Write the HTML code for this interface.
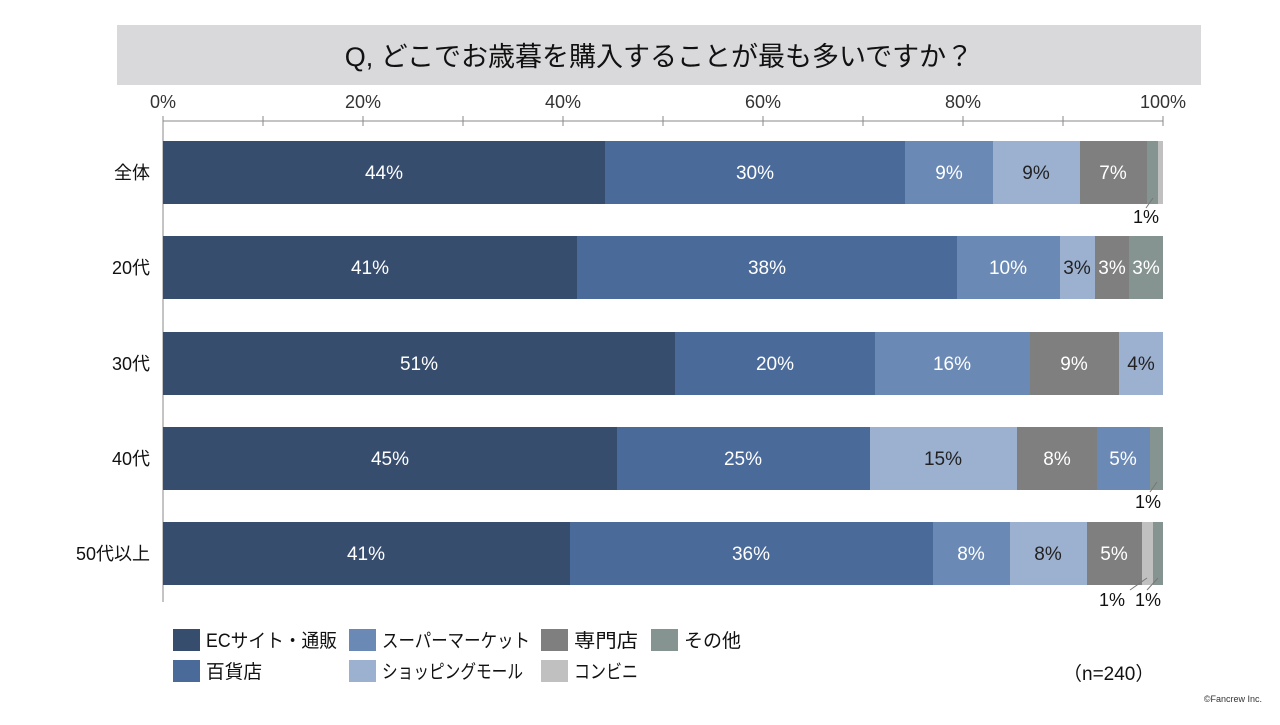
<!DOCTYPE html>
<html><head><meta charset="utf-8"><style>
body{margin:0;background:#fff;}
text{font-family:"Liberation Sans","Noto Sans CJK JP",sans-serif;}
</style></head><body>
<svg width="1280" height="720" xmlns="http://www.w3.org/2000/svg">
<rect x="117" y="25" width="1084" height="60" fill="#d9d9dc"/>
<text x="659" y="66" font-size="27" text-anchor="middle" fill="#111">Q, どこでお歳暮を購入することが最も多いですか？</text>
<g font-size="18" fill="#333" text-anchor="middle">
<text x="163" y="108">0%</text><text x="363" y="108">20%</text><text x="563" y="108">40%</text><text x="763" y="108">60%</text><text x="963" y="108">80%</text><text x="1163" y="108">100%</text>
</g>
<g stroke="#888" stroke-width="1">
<line x1="163" y1="121" x2="1163" y2="121"/>
<line x1="163" y1="121" x2="163" y2="602"/>
<line x1="163" y1="116" x2="163" y2="126"/><line x1="263" y1="116" x2="263" y2="126"/><line x1="363" y1="116" x2="363" y2="126"/><line x1="463" y1="116" x2="463" y2="126"/><line x1="563" y1="116" x2="563" y2="126"/><line x1="663" y1="116" x2="663" y2="126"/><line x1="763" y1="116" x2="763" y2="126"/><line x1="863" y1="116" x2="863" y2="126"/><line x1="963" y1="116" x2="963" y2="126"/><line x1="1063" y1="116" x2="1063" y2="126"/><line x1="1163" y1="116" x2="1163" y2="126"/>
</g>
<g font-size="18" fill="#111" text-anchor="end">
<text x="150" y="179">全体</text><text x="150" y="274">20代</text><text x="150" y="370">30代</text><text x="150" y="465">40代</text><text x="150" y="560">50代以上</text>
</g>
<rect x="163" y="141" width="442" height="63" fill="#374d6e"/>
<rect x="605" y="141" width="300" height="63" fill="#4a6a9a"/>
<rect x="905" y="141" width="88" height="63" fill="#6a8ab5"/>
<rect x="993" y="141" width="87" height="63" fill="#9cb0cf"/>
<rect x="1080" y="141" width="67" height="63" fill="#7f7f7f"/>
<rect x="1147" y="141" width="11" height="63" fill="#859490"/>
<rect x="1158" y="141" width="5" height="63" fill="#c0c0c0"/>
<rect x="163" y="236" width="414" height="63" fill="#374d6e"/>
<rect x="577" y="236" width="380" height="63" fill="#4a6a9a"/>
<rect x="957" y="236" width="103" height="63" fill="#6a8ab5"/>
<rect x="1060" y="236" width="35" height="63" fill="#9cb0cf"/>
<rect x="1095" y="236" width="34" height="63" fill="#7f7f7f"/>
<rect x="1129" y="236" width="34" height="63" fill="#859490"/>
<rect x="163" y="332" width="512" height="63" fill="#374d6e"/>
<rect x="675" y="332" width="200" height="63" fill="#4a6a9a"/>
<rect x="875" y="332" width="155" height="63" fill="#6a8ab5"/>
<rect x="1030" y="332" width="89" height="63" fill="#7f7f7f"/>
<rect x="1119" y="332" width="44" height="63" fill="#9cb0cf"/>
<rect x="163" y="427" width="454" height="63" fill="#374d6e"/>
<rect x="617" y="427" width="253" height="63" fill="#4a6a9a"/>
<rect x="870" y="427" width="147" height="63" fill="#9cb0cf"/>
<rect x="1017" y="427" width="80" height="63" fill="#7f7f7f"/>
<rect x="1097" y="427" width="53" height="63" fill="#6a8ab5"/>
<rect x="1150" y="427" width="13" height="63" fill="#859490"/>
<rect x="163" y="522" width="407" height="63" fill="#374d6e"/>
<rect x="570" y="522" width="363" height="63" fill="#4a6a9a"/>
<rect x="933" y="522" width="77" height="63" fill="#6a8ab5"/>
<rect x="1010" y="522" width="77" height="63" fill="#9cb0cf"/>
<rect x="1087" y="522" width="55" height="63" fill="#7f7f7f"/>
<rect x="1142" y="522" width="11" height="63" fill="#c0c0c0"/>
<rect x="1153" y="522" width="10" height="63" fill="#859490"/>
<g font-size="19" text-anchor="middle" fill="#fff">
<text x="384" y="179">44%</text><text x="755" y="179">30%</text><text x="949" y="179">9%</text><text x="1036" y="179" fill="#222">9%</text><text x="1113" y="179">7%</text>
<text x="370" y="274">41%</text><text x="767" y="274">38%</text><text x="1008" y="274">10%</text><text x="1077" y="274" fill="#222">3%</text><text x="1112" y="274">3%</text><text x="1146" y="274">3%</text>
<text x="419" y="370">51%</text><text x="775" y="370">20%</text><text x="952" y="370">16%</text><text x="1074" y="370">9%</text><text x="1141" y="370" fill="#222">4%</text>
<text x="390" y="465">45%</text><text x="743" y="465">25%</text><text x="943" y="465" fill="#222">15%</text><text x="1057" y="465">8%</text><text x="1123" y="465">5%</text>
<text x="366" y="560">41%</text><text x="751" y="560">36%</text><text x="971" y="560">8%</text><text x="1048" y="560" fill="#222">8%</text><text x="1114" y="560">5%</text>
</g>
<g stroke="#777" stroke-width="1">
<line x1="1153" y1="198" x2="1146" y2="208"/>
<line x1="1157" y1="482" x2="1150" y2="492"/>
<line x1="1147" y1="578" x2="1130" y2="590"/>
<line x1="1158" y1="578" x2="1147" y2="590"/>
</g>
<g font-size="18" fill="#111" text-anchor="middle">
<text x="1146" y="223">1%</text><text x="1148" y="508">1%</text><text x="1112" y="606">1%</text><text x="1148" y="606">1%</text>
</g>
<g font-size="19" fill="#111">
<rect x="173" y="629" width="27" height="22" fill="#374d6e"/><text x="206" y="647" textLength="131" lengthAdjust="spacingAndGlyphs">ECサイト・通販</text>
<rect x="173" y="660" width="27" height="22" fill="#4a6a9a"/><text x="206" y="678" textLength="56" lengthAdjust="spacingAndGlyphs">百貨店</text>
<rect x="349" y="629" width="27" height="22" fill="#6a8ab5"/><text x="382" y="647" textLength="148" lengthAdjust="spacingAndGlyphs">スーパーマーケット</text>
<rect x="349" y="660" width="27" height="22" fill="#9cb0cf"/><text x="382" y="678" textLength="141" lengthAdjust="spacingAndGlyphs">ショッピングモール</text>
<rect x="541" y="629" width="27" height="22" fill="#7f7f7f"/><text x="574" y="647" textLength="64" lengthAdjust="spacingAndGlyphs">専門店</text>
<rect x="541" y="660" width="27" height="22" fill="#c0c0c0"/><text x="574" y="678" textLength="64" lengthAdjust="spacingAndGlyphs">コンビニ</text>
<rect x="651" y="629" width="27" height="22" fill="#859490"/><text x="684" y="647" textLength="57" lengthAdjust="spacingAndGlyphs">その他</text>
<text x="1063" y="680">（n=240）</text>
</g>
<text x="1262" y="702" font-size="9" fill="#333" text-anchor="end">©Fancrew Inc.</text>
</svg>
</body></html>
